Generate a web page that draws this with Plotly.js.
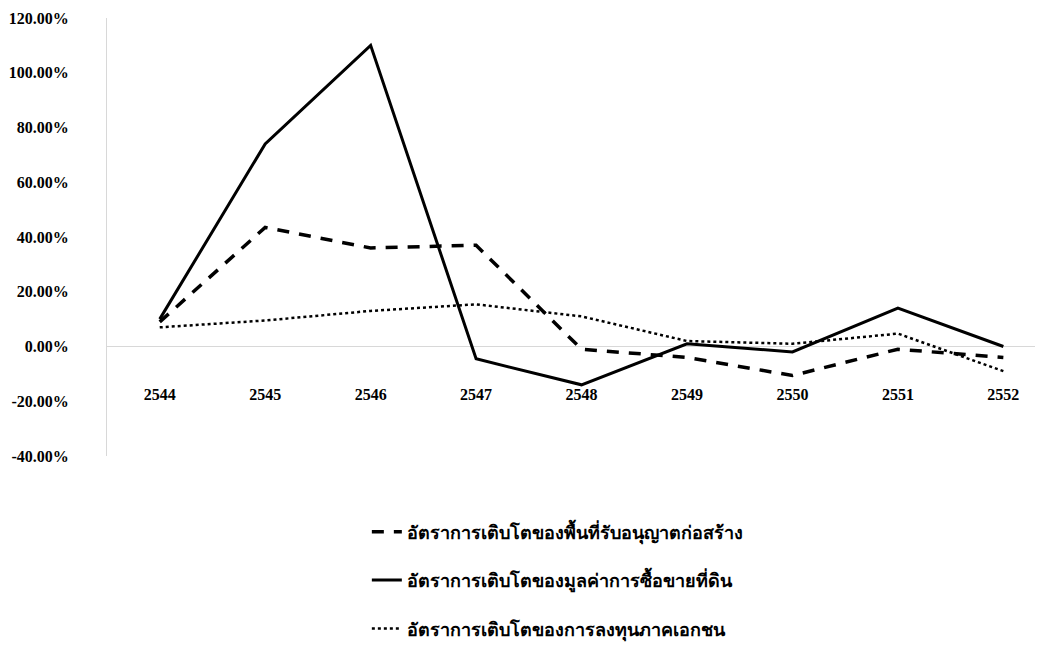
<!DOCTYPE html>
<html>
<head>
<meta charset="utf-8">
<script src="https://cdn.plot.ly/plotly-3.0.1.min.js"></script>
<style>body{margin:0;background:#fff;} #chart{width:1052px;height:650px;}</style>
</head>
<body>
<div id="chart"></div>
<script>
const years = ["2544","2545","2546","2547","2548","2549","2550","2551","2552"];
const permitArea = [9, 43.5, 36, 37, -1, -4, -10.6, -1, -4];
const landValue = [10, 74, 110, -4.5, -14, 1, -2, 14, 0];
const privateInvest = [7, 9.5, 13, 15.4, 11, 2, 1, 4.7, -9];
const names = [
  "อัตราการเติบโตของพื้นที่รับอนุญาตก่อสร้าง",
  "อัตราการเติบโตของมูลค่าการซื้อขายที่ดิน",
  "อัตราการเติบโตของการลงทุนภาคเอกชน"
];
const yTicks = [-40, -20, 0, 20, 40, 60, 80, 100, 120];
const yTickText = yTicks.map(v => v.toFixed(2) + "%");

const serif = "Liberation Serif, Times New Roman, serif";
const traces = [
  {x: years, y: permitArea, name: names[0], legendgroup: "a", mode: "lines",
   line: {color: "#000", width: 3.5, dash: "12px,10px"}},
  {x: years, y: landValue, name: names[1], legendgroup: "b", mode: "lines",
   line: {color: "#000", width: 3}},
  {x: years, y: privateInvest, name: names[2], legendgroup: "c", mode: "lines",
   line: {color: "#000", width: 2.5, dash: "dot"}}
];
const layout = {
  width: 1052, height: 650,
  margin: {l: 107, r: 17, t: 18, b: 194},
  paper_bgcolor: "#fff", plot_bgcolor: "#fff",
  showlegend: true,
  font: {family: serif, color: "#000", size: 14},
  xaxis: {
    type: "category", range: [-0.5, 8.3],
    anchor: "free", position: 0.167,
    showgrid: false, showline: false, zeroline: false, ticks: "",
    tickfont: {family: serif, size: 16, weight: "bold"}
  },
  yaxis: {
    range: [-40, 120], tickmode: "array", tickvals: yTicks, ticktext: yTickText,
    showgrid: false, showline: true, linecolor: "#d8d8d8", linewidth: 1,
    zeroline: true, zerolinecolor: "#d8d8d8", zerolinewidth: 1,
    ticks: "", ticklabelstandoff: 34,
    tickfont: {family: serif, size: 16, weight: "bold"}
  },
  legend: {
    orientation: "v", xref: "paper", x: 0.28, xanchor: "left",
    yref: "container", y: 0.21, yanchor: "top",
    tracegroupgap: 22, bgcolor: "rgba(0,0,0,0)",
    font: {family: "Noto Sans, Liberation Serif, sans-serif", size: 18, weight: "bold"}
  }
};
Plotly.newPlot("chart", traces, layout, {displayModeBar: false, staticPlot: true});
</script>
</body>
</html>
